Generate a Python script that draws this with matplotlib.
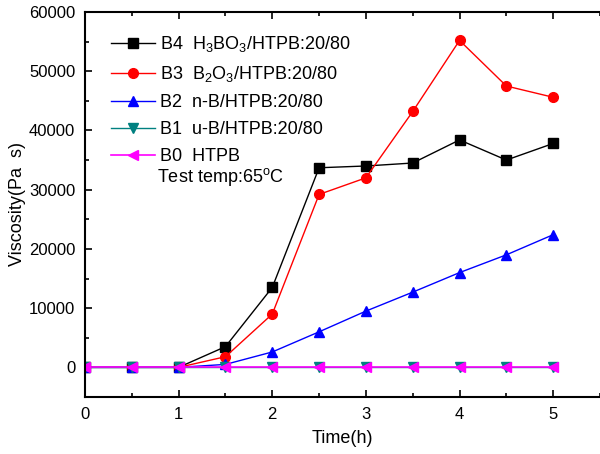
import matplotlib
matplotlib.use("Agg")
import matplotlib.pyplot as plt
from matplotlib.ticker import MultipleLocator

plt.rcParams['font.family'] = ['Liberation Sans', 'DejaVu Sans']
plt.rcParams['mathtext.fontset'] = 'custom'
plt.rcParams['mathtext.rm'] = 'Liberation Sans'
plt.rcParams['mathtext.it'] = 'Liberation Sans:italic'

time_h = [0, 0.5, 1, 1.5, 2, 2.5, 3, 3.5, 4, 4.5, 5]
b4 = [0, 0, 0, 3500, 13500, 33700, 34000, 34500, 38400, 35000, 37800]
b3 = [0, 0, 0, 1800, 9000, 29200, 32000, 43200, 55200, 47500, 45600]
b2 = [0, 0, 0, 500, 2600, 6000, 9500, 12700, 16000, 19000, 22400]
b1 = [0, 0, 0, 0, 0, 0, 0, 0, 0, 0, 0]
b0 = [0, 0, 0, 0, 0, 0, 0, 0, 0, 0, 0]

labels = [
    r'B4  H$_3$BO$_3$/HTPB:20/80',
    r'B3  B$_2$O$_3$/HTPB:20/80',
    'B2  n-B/HTPB:20/80',
    'B1  u-B/HTPB:20/80',
    'B0  HTPB',
]

fig = plt.figure(figsize=(6.0, 4.54), dpi=100)
ax = fig.add_axes([0.1417, 0.1256, 0.8583, 0.848])

ax.plot(time_h, b4, color='black', marker='s', ms=6.5, lw=1, label=labels[0])
ax.plot(time_h, b3, color='red', marker='o', ms=7, lw=1, label=labels[1])
ax.plot(time_h, b2, color='blue', marker='^', ms=7.5, lw=1, label=labels[2])
ax.plot(time_h, b1, color='#008080', marker='v', ms=7.5, lw=1, label=labels[3])
ax.plot(time_h, b0, color='magenta', marker='<', ms=7.5, lw=1.2, label=labels[4])

ax.set_xlim(0, 5.5)
ax.set_ylim(-5000, 60000)
ax.xaxis.set_major_locator(MultipleLocator(1))
ax.xaxis.set_minor_locator(MultipleLocator(0.5))
ax.yaxis.set_major_locator(MultipleLocator(10000))
ax.yaxis.set_minor_locator(MultipleLocator(5000))
ax.tick_params(which='both', direction='in', top=True, right=False,
               labelsize=12, width=1.2)
ax.tick_params(which='major', length=5, pad=7)
ax.tick_params(which='minor', length=3)
for side in ('left', 'bottom', 'top'):
    ax.spines[side].set_linewidth(1.5)
ax.spines['right'].set_visible(False)

ax.set_xlabel('Time(h)', fontsize=13, labelpad=6)
ax.set_ylabel('Viscosity(Pa  s)', fontsize=13, labelpad=2)

leg = ax.legend(loc='upper left', bbox_to_anchor=(0.03, 0.97), frameon=False,
                fontsize=13, handlelength=2.4, handletextpad=0.3,
                labelspacing=0.55, borderaxespad=0.2)
ax.text(0.14, 0.571, r'Test temp:65$^{\mathrm{o}}$C', transform=ax.transAxes,
        fontsize=13, va='center', ha='left')

fig.savefig('out.png', dpi=100)
